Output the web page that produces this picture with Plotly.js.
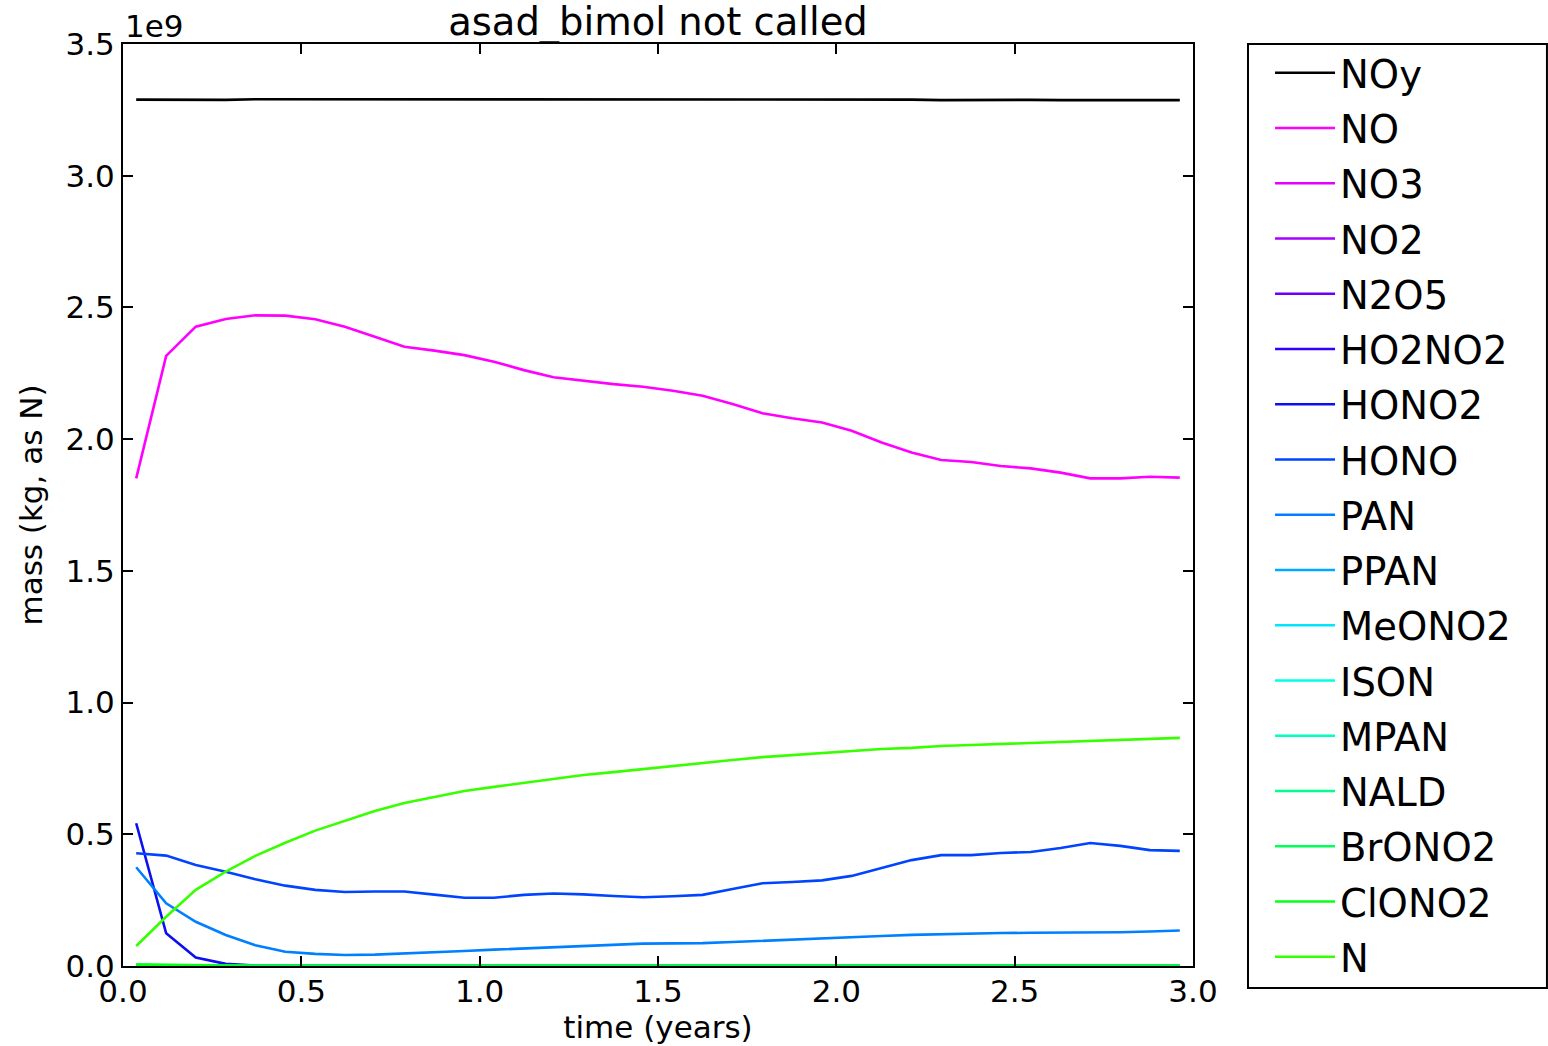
<!DOCTYPE html>
<html>
<head>
<meta charset="utf-8">
<script src="https://cdn.plot.ly/plotly-3.0.1.min.js"></script>
<style>html,body{margin:0;padding:0;background:#fff;}#chart{width:1548px;height:1046px;}</style>
</head>
<body>
<div id="chart"></div>
<script>
// time (years)
var time = [0.037,0.121,0.204,0.288,0.371,0.455,0.539,0.622,0.706,0.789,0.873,0.957,
            1.040,1.124,1.207,1.291,1.375,1.458,1.542,1.625,1.709,1.793,1.876,1.960,
            2.043,2.127,2.211,2.294,2.378,2.461,2.545,2.629,2.712,2.796,2.879,2.963];

// mass (1e9 kg, as N)
var NOy = [3.289,3.288,3.287,3.288,3.290,3.290,3.288,3.289,3.289,3.288,3.289,3.289,
           3.289,3.289,3.289,3.290,3.289,3.289,3.290,3.290,3.289,3.289,3.288,3.288,
           3.288,3.289,3.289,3.287,3.288,3.288,3.288,3.287,3.287,3.288,3.287,3.287];
var NO = [1.851,2.316,2.427,2.456,2.470,2.469,2.455,2.427,2.389,2.351,2.336,2.319,
          2.294,2.262,2.235,2.221,2.209,2.199,2.184,2.165,2.133,2.098,2.079,2.063,
          2.032,1.987,1.949,1.921,1.913,1.898,1.889,1.873,1.851,1.851,1.857,1.854];
var HONO2 = [0.542,0.124,0.032,0.008,0.002,0.001,0,0,0,0,0,0,
             0,0,0,0,0,0,0,0,0,0,0,0,
             0,0,0,0,0,0,0,0,0,0,0,0];
var HONO = [0.428,0.419,0.383,0.358,0.329,0.305,0.289,0.281,0.283,0.283,0.271,0.259,
            0.259,0.270,0.275,0.272,0.266,0.261,0.265,0.270,0.292,0.314,0.319,0.325,
            0.342,0.372,0.402,0.421,0.421,0.429,0.433,0.448,0.467,0.456,0.440,0.437];
var PAN = [0.375,0.238,0.168,0.118,0.079,0.054,0.046,0.042,0.043,0.047,0.052,0.057,
           0.062,0.067,0.072,0.077,0.082,0.085,0.086,0.087,0.091,0.096,0.101,0.106,
           0.110,0.114,0.118,0.121,0.123,0.125,0.126,0.126,0.126,0.128,0.131,0.135];
var ClONO2 = [0.006,0.004,0.002,0.001,0,0,0,0,0,0,0,0,
              0,0,0,0,0,0,0,0,0,0,0,0,
              0,0,0,0,0,0,0,0,0,0,0,0];
var N = [0.076,0.187,0.289,0.358,0.418,0.468,0.514,0.552,0.588,0.619,0.642,0.664,
         0.680,0.695,0.710,0.725,0.736,0.748,0.759,0.771,0.782,0.793,0.801,0.809,
         0.816,0.824,0.828,0.835,0.839,0.843,0.847,0.850,0.854,0.858,0.862,0.866];
var ZERO = [0,0,0,0,0,0,0,0,0,0,0,0,0,0,0,0,0,0,0,0,0,0,0,0,0,0,0,0,0,0,0,0,0,0,0,0];

var seriesNames = ["NOy","NO","NO3","NO2","N2O5","HO2NO2","HONO2","HONO","PAN","PPAN",
                   "MeONO2","ISON","MPAN","NALD","BrONO2","ClONO2","N"];
var seriesValues = [NOy, NO, ZERO, ZERO, ZERO, ZERO, HONO2, HONO, PAN, ZERO,
                    ZERO, ZERO, ZERO, ZERO, ZERO, ClONO2, N];
var seriesColors = ["#000000","#ff00ff","#e400ff","#a400ff","#6a00ff","#3000ff","#0a10f0",
                    "#0044ff","#0080ff","#00a8ff","#00e6ff","#00ffe4","#00ffc0","#00ff8c",
                    "#00ff58","#08ff18","#38ff00"];

var FONT = "DejaVu Sans, Liberation Sans, sans-serif";

var traces = seriesNames.map(function(name, i) {
  return {
    x: time, y: seriesValues[i], type: "scatter", mode: "lines", name: name,
    legendgroup: "g" + i,
    line: {color: seriesColors[i], width: 2.6},
    hoverinfo: "x+y+name"
  };
});

var axisCommon = {
  showgrid: false, zeroline: false, showline: true, linecolor: "#000", linewidth: 2,
  mirror: "allticks", ticks: "inside", ticklen: 10, tickwidth: 1.5, tickcolor: "#000",
  tickfont: {family: FONT, size: 31, color: "#000"}, tickformat: ".1f"
};

var layout = {
  width: 1548, height: 1046,
  margin: {l: 123, r: 355, t: 44, b: 80, pad: 0},
  paper_bgcolor: "#fff", plot_bgcolor: "#fff",
  font: {family: FONT, color: "#000"},
  title: {text: "asad_bimol not called", font: {family: FONT, size: 38.5, color: "#000"},
          x: 0.5, xref: "paper", xanchor: "center", y: 1, yref: "paper", yanchor: "bottom",
          pad: {b: 9}},
  xaxis: Object.assign({}, axisCommon, {
    range: [0, 3.0], tick0: 0, dtick: 0.5, ticklabelstandoff: -3,
    title: {text: "time (years)", font: {family: FONT, size: 31, color: "#000"}, standoff: 6}
  }),
  yaxis: Object.assign({}, axisCommon, {
    range: [0, 3.5], tick0: 0, dtick: 0.5,
    title: {text: "mass (kg, as N)", font: {family: FONT, size: 31, color: "#000"}, standoff: 14}
  }),
  showlegend: true,
  legend: {
    x: 1.072, xref: "paper", xanchor: "left", y: 1.003, yref: "paper", yanchor: "top",
    font: {family: FONT, size: 38.5, color: "#000"},
    bgcolor: "rgba(0,0,0,0)", borderwidth: 0, maxheight: 1040,
    tracegroupgap: 2.2, itemwidth: 60, traceorder: "grouped"
  },
  shapes: [{
    type: "rect", xref: "paper", yref: "paper",
    x0: 1.0514, x1: 1.3308, y0: -0.0239, y1: 1.0,
    line: {color: "#000", width: 2}, fillcolor: "rgba(0,0,0,0)", layer: "below"
  }],
  annotations: [{
    text: "1e9", xref: "paper", yref: "paper", x: 0, y: 1, xanchor: "left", yanchor: "bottom",
    showarrow: false, font: {family: FONT, size: 31, color: "#000"}, yshift: -2
  }]
};

Plotly.newPlot("chart", traces, layout, {displayModeBar: false, responsive: false});
</script>
</body>
</html>
